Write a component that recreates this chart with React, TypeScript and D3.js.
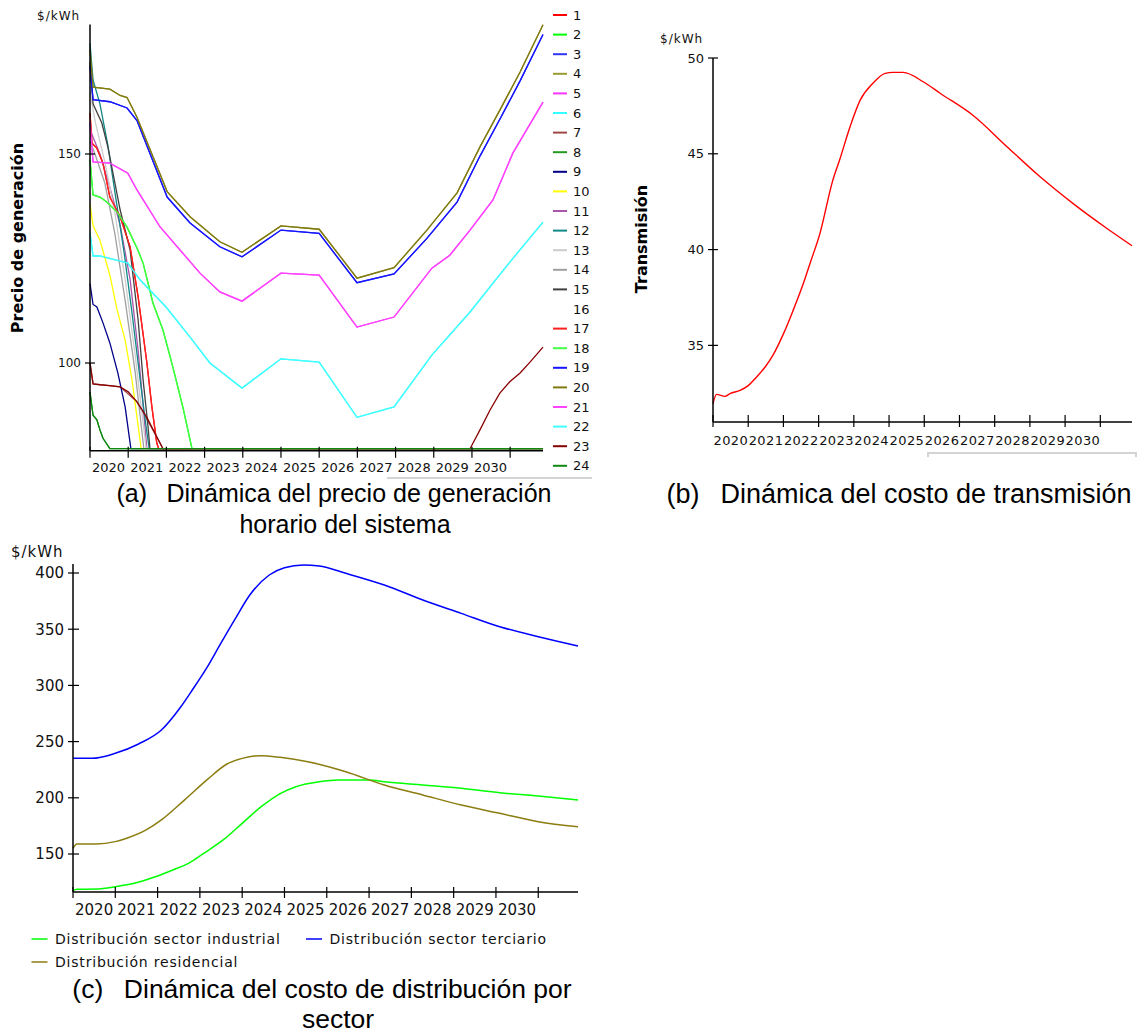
import React from 'react';
import * as d3 from 'd3';

type Pt = [number, number];

// ---- shared axis data ----
const tickYears = [2020, 2021, 2022, 2023, 2024, 2025, 2026, 2027, 2028, 2029, 2030, 2031];
const labelYears = ['2020', '2021', '2022', '2023', '2024', '2025', '2026', '2027', '2028', '2029', '2030'];

// ---- (a) hourly generation price, $/kWh ----
const genTicks = [100, 150];
const genRed: Pt[] = [[2020, 159.8], [2020.05, 152.6], [2020.18, 151.4], [2020.34, 147.8], [2020.52, 139.7], [2020.79, 135], [2020.97, 130], [2021.05, 127.8], [2021.26, 115.8], [2021.49, 100], [2021.62, 89.5], [2021.75, 80.8], [2021.8, 79.5], [2031.86, 79.5]];
const genLime: Pt[] = [[2020, 148.6], [2020.08, 140.2], [2020.26, 139.7], [2020.44, 138.5], [2020.71, 136.1], [2020.97, 132.5], [2021.23, 127.5], [2021.39, 123.9], [2021.65, 114.3], [2021.91, 107.9], [2022.17, 99], [2022.43, 89.5], [2022.67, 79.5], [2031.86, 79.5]];
const genBlue: Pt[] = [[2020, 171], [2020.08, 163], [2020.52, 162.5], [2020.97, 161], [2021.23, 158], [2022.02, 139.7], [2022.62, 133.5], [2023.4, 127.8], [2023.98, 125.4], [2025, 131.8], [2026, 131], [2026.99, 119.2], [2027.96, 121.3], [2028.82, 129.8], [2029.61, 138.5], [2030.21, 149.5], [2030.73, 158.3], [2031.26, 167.5], [2031.86, 178.6]];
const genOlive: Pt[] = [[2020, 175], [2020.08, 166], [2020.52, 165.5], [2020.79, 164], [2020.97, 163.5], [2021.23, 158.8], [2022.02, 141], [2022.62, 135], [2023.4, 129], [2023.98, 126.5], [2025, 132.8], [2026, 132], [2026.99, 120.3], [2027.96, 122.8], [2028.82, 131.8], [2029.61, 140.7], [2030.21, 151.7], [2030.73, 160.5], [2031.26, 169.6], [2031.86, 180.9]];
const genMagenta: Pt[] = [[2020, 157.6], [2020.08, 148.1], [2020.52, 147.8], [2020.99, 145.4], [2021.23, 141.4], [2021.83, 132.6], [2022.88, 121.5], [2023.4, 117], [2023.98, 114.8], [2025, 121.5], [2026, 121], [2026.99, 108.6], [2027.96, 111], [2028.95, 122.7], [2029.42, 125.8], [2029.95, 131.8], [2030.55, 139], [2031.07, 150.2], [2031.86, 162.4]];
const genCyan: Pt[] = [[2020, 131], [2020.08, 125.6], [2020.26, 125.6], [2020.99, 123.9], [2021.31, 119.9], [2021.99, 113.4], [2022.62, 106.2], [2023.14, 100], [2023.98, 94], [2025, 101], [2026, 100.2], [2026.99, 87], [2027.96, 89.5], [2028.95, 101.9], [2029.95, 112.2], [2030.97, 123.9], [2031.86, 133.7]];
const genBrown: Pt[] = [[2020, 100], [2020.08, 95], [2020.79, 94.3], [2021.23, 90.7], [2021.75, 82.3], [2021.91, 79.5], [2031.86, 79.5]];
const genGreen: Pt[] = [[2020, 93], [2020.08, 87.5], [2020.18, 86.4], [2020.26, 84], [2020.34, 82], [2020.52, 79.5], [2031.86, 79.5]];
const genNavy: Pt[] = [[2020, 119], [2020.08, 114], [2020.18, 113.4], [2020.34, 109.6], [2020.52, 104.8], [2020.73, 97.6], [2020.92, 89.5], [2021.07, 79.5], [2031.86, 79.5]];
const genYellow: Pt[] = [[2020, 138], [2020.08, 132.8], [2020.26, 129.4], [2020.52, 121], [2020.71, 112.7], [2020.92, 105.5], [2021.1, 96], [2021.23, 87], [2021.34, 79.5], [2031.86, 79.5]];
const genPurple: Pt[] = [[2020, 156], [2020.08, 154], [2020.26, 150], [2020.52, 142], [2020.79, 133], [2021.05, 120], [2021.26, 103], [2021.39, 90], [2021.49, 79.5], [2031.86, 79.5]];
const genTeal: Pt[] = [[2020, 176.5], [2020.08, 167.7], [2020.26, 162], [2020.47, 152], [2020.65, 141], [2020.9, 126], [2021.1, 112], [2021.3, 97], [2021.45, 86], [2021.55, 79.5], [2031.86, 79.5]];
const genLightGray: Pt[] = [[2020, 165], [2020.13, 158], [2020.39, 148], [2020.65, 136], [2020.92, 120], [2021.18, 102], [2021.36, 88], [2021.47, 79.5], [2031.86, 79.5]];
const genGray: Pt[] = [[2020, 153], [2020.13, 150], [2020.39, 143], [2020.65, 131], [2020.92, 115], [2021.18, 98], [2021.41, 79.5], [2031.86, 79.5]];
const genBlack: Pt[] = [[2020, 172], [2020.08, 162], [2020.31, 157.4], [2020.47, 151.6], [2020.79, 136.6], [2021.05, 127], [2021.1, 123], [2021.26, 110.3], [2021.39, 96], [2021.52, 84.7], [2021.57, 79.5], [2031.86, 79.5]];
const genDarkRed: Pt[] = [[2020, 100], [2020.08, 95], [2020.26, 94.8], [2020.52, 94.6], [2020.79, 94.3], [2021, 93.1], [2021.23, 90.7], [2021.49, 87], [2021.75, 82.3], [2021.91, 79.5], [2029.95, 79.5], [2030.21, 84], [2030.47, 88.7], [2030.73, 92.8], [2030.99, 95.5], [2031.26, 97.6], [2031.52, 100.2], [2031.86, 103.8]];

const hours = ['1', '2', '3', '4', '5', '6', '7', '8', '9', '10', '11', '12', '13', '14', '15', '16', '17', '18', '19', '20', '21', '22', '23', '24'];
const hourColors = ['#ff0000', '#00ff00', '#3333ff', '#999933', '#ff33ff', '#33ffff', '#a04848', '#229922', '#000088', '#ffff00', '#aa55aa', '#118888', '#cccccc', '#a0a0a0', '#404040', '#ffffff', '#ff2020', '#44ff44', '#1515ff', '#807a10', '#ff44ff', '#44ffff', '#880000', '#118811'];
const hourCurves: Pt[][] = [genRed, genLime, genBlue, genOlive, genMagenta, genCyan, genBrown, genGreen, genNavy, genYellow, genPurple, genTeal, genLightGray, genGray, genBlack, [], genRed, genLime, genBlue, genOlive, genMagenta, genCyan, genDarkRed, genGreen];

// ---- (b) transmission cost ----
const transTicks = [35, 40, 45, 50];
const transmision: Pt[] = [[2020, 31.96], [2020.1, 32.44], [2020.34, 32.34], [2020.48, 32.48], [2020.77, 32.65], [2021, 32.9], [2021.24, 33.35], [2021.48, 33.87], [2021.7, 34.48], [2022, 35.6], [2022.27, 36.8], [2022.56, 38.2], [2022.76, 39.3], [2023.04, 40.86], [2023.4, 43.6], [2023.6, 44.7], [2023.89, 46.4], [2024.18, 47.8], [2024.55, 48.7], [2024.89, 49.2], [2025.11, 49.25], [2025.4, 49.25], [2025.97, 48.76], [2026.45, 48.16], [2027.39, 47.0], [2028.35, 45.37], [2029.29, 43.8], [2030.23, 42.4], [2031.19, 41.1], [2031.9, 40.2]];

// ---- (c) distribution cost by sector ----
const distTicks = [150, 200, 250, 300, 350, 400];
const distIndustrial: Pt[] = [[2020, 117.4], [2020.09, 118.6], [2020.55, 118.9], [2021, 120.9], [2021.45, 123.9], [2021.91, 129.3], [2022.36, 135.8], [2022.73, 141.7], [2023.09, 150.6], [2023.55, 162.5], [2024, 177.3], [2024.45, 192.1], [2024.91, 204], [2025.27, 209.9], [2025.82, 214.3], [2026.27, 215.8], [2027, 215.8], [2027.36, 214.3], [2028.27, 211.4], [2029.18, 208.5], [2030.09, 204.5], [2031, 201.6], [2031.94, 198]];
const distTerciario: Pt[] = [[2020, 235.1], [2020.45, 235.1], [2021, 239.6], [2021.55, 247.9], [2022.09, 260.3], [2022.55, 281], [2022.82, 295.9], [2023.18, 316.7], [2023.45, 334.4], [2023.82, 358.2], [2024.18, 380.4], [2024.64, 398.2], [2025, 404.7], [2025.45, 407.1], [2025.82, 406.2], [2026.45, 399.7], [2027.36, 389.3], [2028.27, 376], [2029.18, 364.1], [2030.09, 352.2], [2031, 343.3], [2031.94, 335.1]];
const distResidencial: Pt[] = [[2020, 155.1], [2020.09, 158.9], [2020.55, 158.9], [2021, 161], [2021.27, 164], [2021.73, 171.4], [2022.09, 180.3], [2022.64, 198.2], [2023.18, 216.4], [2023.64, 230.1], [2024, 235.1], [2024.45, 237.5], [2024.9, 236], [2025.55, 232.1], [2026.45, 223.2], [2027.36, 211.4], [2028.27, 202.5], [2029.18, 193.6], [2030.09, 186.2], [2031, 178.7], [2031.94, 174.3]];
const distNames = ['Distribución sector industrial', 'Distribución sector terciario', 'Distribución residencial'];
const distColors = ['#00ff00', '#0000ff', '#8b7d10'];

const tickFont = 'DejaVu Sans, Verdana, sans-serif';
const capFont = 'Liberation Sans, Arial, sans-serif';

function YearAxis({ x, y0, up, down, size, dy, dx, spacing }: { x: d3.ScaleLinear<number, number>; y0: number; up: number; down: number; size: number; dy: number; dx: number; spacing: number }) {
  const [r0, r1] = x.range();
  return (
    <g>
      <line x1={r0} x2={r1} y1={y0} y2={y0} stroke="#000" strokeWidth={1.5} />
      {tickYears.map((t) => (
        <line key={t} x1={x(t)} x2={x(t)} y1={y0 - up} y2={y0 + down} stroke="#000" strokeWidth={1.2} />
      ))}
      {labelYears.map((t) => (
        <text key={t} x={x(+t) + dx} y={y0 + dy} fontSize={size} letterSpacing={spacing} fontFamily={tickFont} fill="#111">{t}</text>
      ))}
    </g>
  );
}

function PanelA() {
  const x = d3.scaleLinear().domain([2020, 2031.86]).range([90, 543]);
  const y = d3.scaleLinear().domain([79, 181]).range([450.8, 24.4]);
  const line = d3.line<Pt>().x((d) => x(d[0])).y((d) => y(d[1]));
  const legendY = (i: number) => 15 + i * 19.6;
  return (
    <g>
      {hourCurves.map((c, i) =>
        c.length ? <path key={i} d={line(c) || ''} fill="none" stroke={hourColors[i]} strokeWidth={1.3} /> : null
      )}
      <line x1={90} x2={90} y1={y(181)} y2={y(79)} stroke="#000" strokeWidth={1.5} />
      {genTicks.map((v) => (
        <g key={v}>
          <line x1={85} x2={95} y1={y(v)} y2={y(v)} stroke="#000" strokeWidth={1.2} />
          <text x={81} y={y(v)} dy="0.36em" textAnchor="end" fontSize={12} fontFamily={tickFont} fill="#111">{v}</text>
        </g>
      ))}
      <YearAxis x={x} y0={y(79)} up={4} down={7} size={13} dy={21} dx={2} spacing={0} />
      <text x={37} y={20} fontSize={12} letterSpacing={1} fontFamily={tickFont} fill="#111">$/kWh</text>
      <text transform="translate(23,238) rotate(-90)" textAnchor="middle" fontSize={16} fontWeight="bold" fontFamily={tickFont}>Precio de generación</text>
      {hours.map((h, i) => (
        <g key={h}>
          <line x1={553} x2={567} y1={legendY(i)} y2={legendY(i)} stroke={hourColors[i]} strokeWidth={2} />
          <text x={573} y={legendY(i)} dy="0.36em" fontSize={13} fontFamily={tickFont} fill="#111">{h}</text>
        </g>
      ))}
      <line x1={387} x2={592} y1={478} y2={478} stroke="#d4d4d4" strokeWidth={2} />
      <text x={334} y={502} textAnchor="middle" fontSize={25} fontFamily={capFont} style={{ whiteSpace: 'pre' }}>{'(a)\u2002 Dinámica del precio de generación'}</text>
      <text x={345} y={533} textAnchor="middle" fontSize={25} fontFamily={capFont}>horario del sistema</text>
    </g>
  );
}

function PanelB() {
  const x = d3.scaleLinear().domain([2020, 2031.9]).range([713, 1132]);
  const y = d3.scaleLinear().domain([31, 50]).range([422, 58]);
  const line = d3.line<Pt>().x((d) => x(d[0])).y((d) => y(d[1])).curve(d3.curveMonotoneX);
  return (
    <g>
      <path d={line(transmision) || ''} fill="none" stroke="#ff0000" strokeWidth={1.4} />
      <line x1={713} x2={713} y1={y(50)} y2={y(31)} stroke="#000" strokeWidth={1.5} />
      {transTicks.map((v) => (
        <g key={v}>
          <line x1={708} x2={718} y1={y(v)} y2={y(v)} stroke="#000" strokeWidth={1.2} />
          <text x={704} y={y(v)} dy="0.36em" textAnchor="end" fontSize={13} fontFamily={tickFont} fill="#111">{v}</text>
        </g>
      ))}
      <YearAxis x={x} y0={y(31)} up={7} down={5} size={13} dy={23} dx={0.5} spacing={0.4} />
      <text x={660} y={43} fontSize={12} letterSpacing={1} fontFamily={tickFont} fill="#111">$/kWh</text>
      <text transform="translate(647,239) rotate(-90)" textAnchor="middle" fontSize={16} fontWeight="bold" fontFamily={tickFont}>Transmisión</text>
      <path d="M928,457 V453 H1136 V457" fill="none" stroke="#d4d4d4" strokeWidth={2} />
      <text x={899} y={503} textAnchor="middle" fontSize={27} fontFamily={capFont} style={{ whiteSpace: 'pre' }}>{'(b)\u2002 Dinámica del costo de transmisión'}</text>
    </g>
  );
}

function PanelC() {
  const x = d3.scaleLinear().domain([2020, 2031.94]).range([73, 578]);
  const y = d3.scaleLinear().domain([116.2, 408]).range([892, 564]);
  const line = d3.line<Pt>().x((d) => x(d[0])).y((d) => y(d[1])).curve(d3.curveMonotoneX);
  const curves = [distIndustrial, distTerciario, distResidencial];
  const legendPos = [[31.5, 939], [306, 939], [31.5, 962]];
  return (
    <g>
      {curves.map((c, i) => (
        <path key={i} d={line(c) || ''} fill="none" stroke={distColors[i]} strokeWidth={1.5} />
      ))}
      <line x1={73} x2={73} y1={y(408)} y2={y(116.2)} stroke="#000" strokeWidth={1.5} />
      {distTicks.map((v) => (
        <g key={v}>
          <line x1={68} x2={79} y1={y(v)} y2={y(v)} stroke="#000" strokeWidth={1.2} />
          <text x={64} y={y(v)} dy="0.36em" textAnchor="end" fontSize={15} fontFamily={tickFont} fill="#111">{v}</text>
        </g>
      ))}
      <YearAxis x={x} y0={y(116.2)} up={5} down={6} size={15} dy={23} dx={2} spacing={0} />
      <text x={11} y={557} fontSize={15} letterSpacing={1} fontFamily={tickFont} fill="#111">$/kWh</text>
      {distNames.map((n, i) => (
        <g key={n}>
          <line x1={legendPos[i][0]} x2={legendPos[i][0] + 16} y1={legendPos[i][1]} y2={legendPos[i][1]} stroke={distColors[i]} strokeWidth={1.5} />
          <text x={legendPos[i][0] + 23.5} y={legendPos[i][1]} dy="0.36em" fontSize={14} letterSpacing={0.8} fontFamily={tickFont} fill="#111">{n}</text>
        </g>
      ))}
      <text x={322} y={998} textAnchor="middle" fontSize={26.5} fontFamily={capFont} style={{ whiteSpace: 'pre' }}>{'(c)\u2002 Dinámica del costo de distribución por'}</text>
      <text x={338} y={1028} textAnchor="middle" fontSize={26.5} fontFamily={capFont}>sector</text>
    </g>
  );
}

export default function App() {
  return (
    <svg width={1138} height={1034} style={{ position: 'absolute', left: 0, top: 0, background: '#fff' }}>
      <rect width={1138} height={1034} fill="#fff" />
      <PanelA />
      <PanelB />
      <PanelC />
    </svg>
  );
}
